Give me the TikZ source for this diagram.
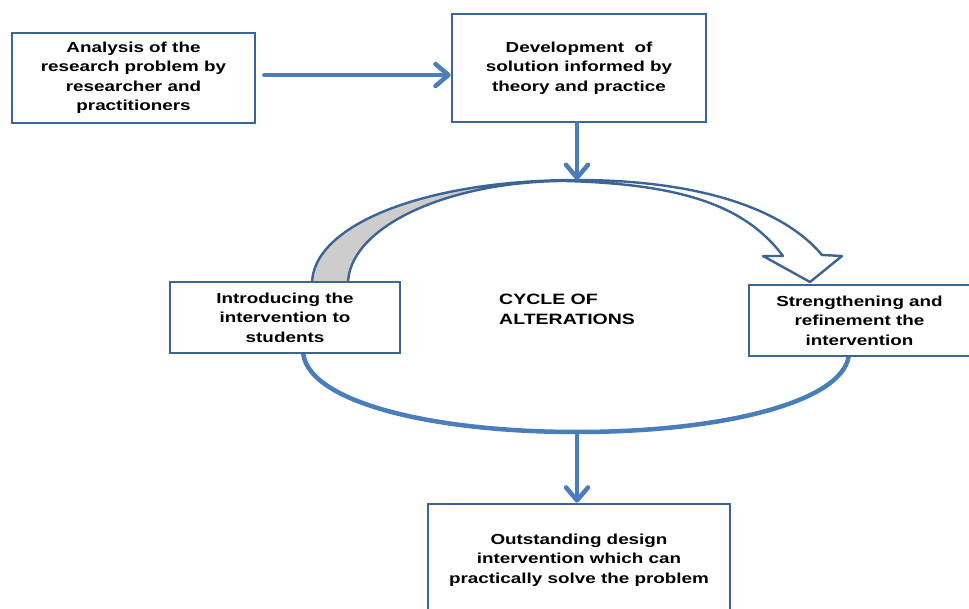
\documentclass[tikz,border=0pt]{standalone}
\usepackage{fontspec}
\setmainfont{Liberation Sans}[FakeStretch=1.3]
\usetikzlibrary{arrows.meta}
\definecolor{boxblue}{HTML}{3C6494}
\definecolor{arrblue}{HTML}{4A7EBB}
\definecolor{backgray}{HTML}{CDCDCD}
\begin{document}
\begin{tikzpicture}[x=1pt,y=-1pt,
  box/.style={draw=boxblue, line width=2.6pt, fill=white, align=center,
    font=\bfseries\fontsize{14.5}{19.5}\selectfont, inner sep=0pt},
  flow/.style={draw=arrblue, line width=4.5pt, line cap=round,
    -{Straight Barb[length=13pt,width=22pt,line cap=round,line join=round]}},
  loopline/.style={draw=arrblue, line width=4.5pt},
  blockarrow/.style={draw=boxblue, line width=2.4pt, line join=round}]
\useasboundingbox (0,0) rectangle (969,609);

% named points of the cycle
\coordinate (top) at (577,180);
\coordinate (cl) at (303,350);
\coordinate (cr) at (849,352);
\coordinate (bot) at (577,432);

% curved block arrow (back face, grey)
\path[blockarrow, fill=backgray]
  (312,284) .. controls (312,225) and (425,180) .. (top)
  -- (560,181) .. controls (440,183) and (348,230) .. (348,284) -- cycle;
% curved block arrow (front face, white, with head)
\path[blockarrow, fill=white]
  (top) .. controls (690,180) and (780,205) .. (822,255)
  -- (842,256) -- (810,282) -- (763,256) -- (783,256)
  .. controls (745,205) and (680,184) .. (565,181) -- cycle;

% lower half of the cycle
\draw[loopline] (cl) .. controls (303,400) and (426,432) .. (bot)
  .. controls (728,432) and (849,400) .. (cr);

% boxes
\node[box, minimum width=243pt, minimum height=90pt] (A) at (133.5,78)
  {Analysis of the\\research problem by\\researcher and\\practitioners};
\node[box, minimum width=254pt, minimum height=108pt] (B) at (579,68)
  {Development \ of\\solution informed by\\theory and practice};
\node[box, minimum width=230pt, minimum height=71pt] (C) at (285,317.5)
  {Introducing the\\intervention to\\students};
\node[box, minimum width=221pt, minimum height=71pt] (D) at (859.5,320.5)
  {Strengthening and\\refinement the\\intervention};
\node[box, minimum width=302pt, minimum height=112pt] (E) at (579,560)
  {Outstanding design\\intervention which can\\practically solve the problem};
\node[font=\bfseries\fontsize{15}{20}\selectfont, align=left, anchor=west,
  inner sep=0pt] (cyc) at (499,309) {CYCLE OF\\ALTERATIONS};

% connectors
\draw[flow] ([xshift=8pt,yshift=3pt]A.east) -- ([yshift=-7pt]B.west);
\draw[flow] (B.south -| top) -- (top);
\draw[flow] (bot) -- (E.north -| bot);
\end{tikzpicture}
\end{document}
